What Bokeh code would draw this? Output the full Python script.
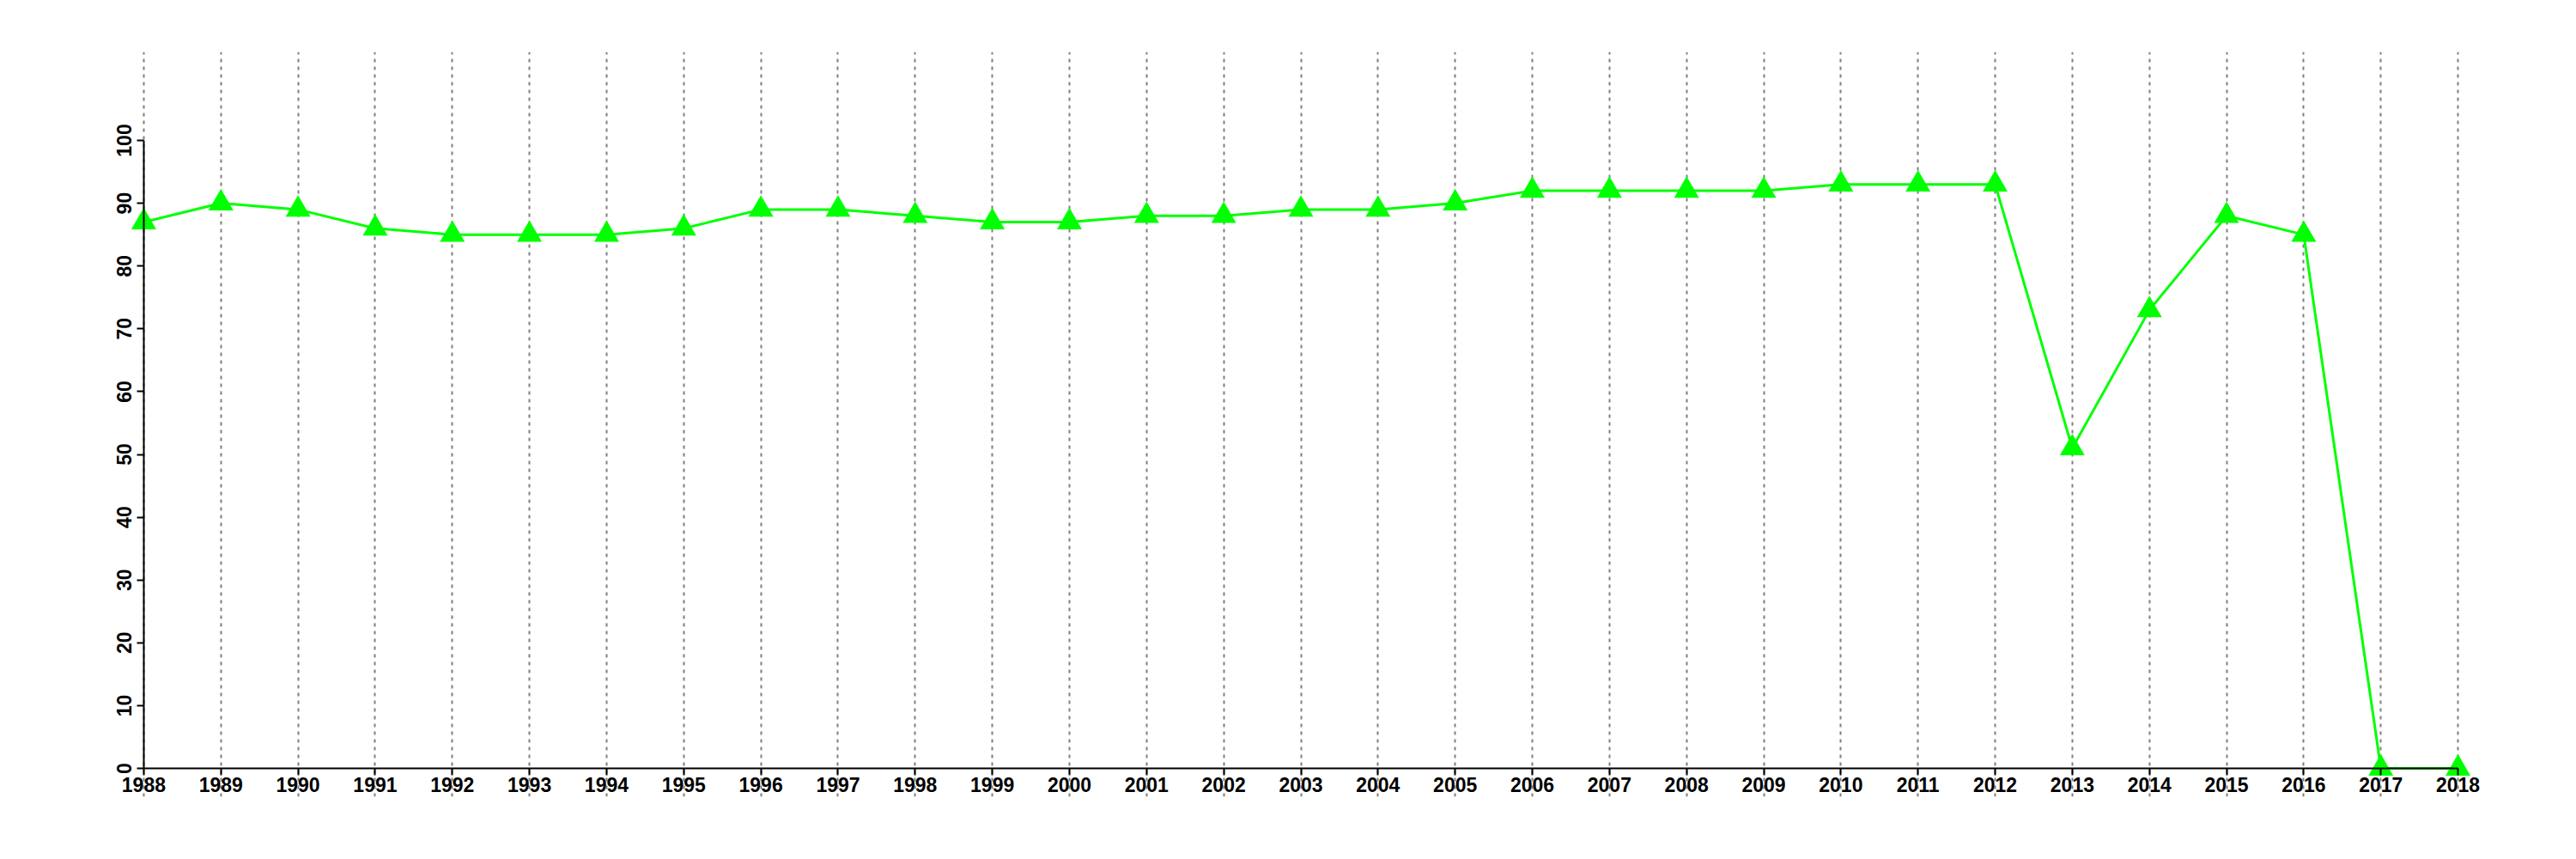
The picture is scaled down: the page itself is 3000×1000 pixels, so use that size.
from bokeh.plotting import figure
from bokeh.models import FixedTicker, ColumnDataSource
from bokeh.embed import file_html
from bokeh.resources import INLINE

years = list(range(1988, 2019))
values = [87, 90, 89, 86, 85, 85, 85, 86, 89, 89, 88, 87, 87, 88, 88, 89, 89, 90,
          92, 92, 92, 92, 93, 93, 93, 51, 73, 88, 85, 0, 0]
y_ticks = [0, 10, 20, 30, 40, 50, 60, 70, 80, 90, 100]

src = ColumnDataSource(data=dict(year=years, value=values))

p = figure(width=2984, height=984, x_range=(1987.5, 2018.5), y_range=(-4.51, 114.09),
           output_backend="svg", toolbar_location=None,
           min_border_left=122, min_border_right=77, min_border_top=60, min_border_bottom=57)
p.outline_line_color = None
p.background_fill_color = "white"

p.line("year", "value", source=src, line_color="#00ff00", line_width=3)
p.scatter("year", "value", source=src, marker="triangle", size=29,
          fill_color="#00ff00", line_color="#00ff00", line_width=0)

font = "Liberation Sans"
for ax in (p.xaxis[0], p.yaxis[0]):
    ax.axis_line_color = "black"
    ax.axis_line_width = 2
    ax.major_tick_line_color = "black"
    ax.major_tick_line_width = 2
    ax.major_tick_out = 8
    ax.major_tick_in = 0
    ax.minor_tick_line_color = None
    ax.major_label_text_font = font
    ax.major_label_text_font_style = "bold"
    ax.major_label_text_font_size = "23px"
    ax.major_label_text_color = "black"

p.xaxis.ticker = FixedTicker(ticks=years)
p.xaxis.fixed_location = 0
p.xaxis.bounds = (1988, 2018)
p.xaxis.major_label_standoff = 2

p.yaxis.ticker = FixedTicker(ticks=y_ticks)
p.yaxis.fixed_location = 1988
p.yaxis.bounds = (0, 100)
p.yaxis.major_label_orientation = "vertical"
p.yaxis.major_label_standoff = 6

p.xgrid.ticker = FixedTicker(ticks=years)
p.xgrid.grid_line_color = "#7f7f7f"
p.xgrid.grid_line_width = 2
p.xgrid.grid_line_dash = "4 5"
p.ygrid.grid_line_color = None

open("out.html", "w").write(file_html(p, INLINE))
